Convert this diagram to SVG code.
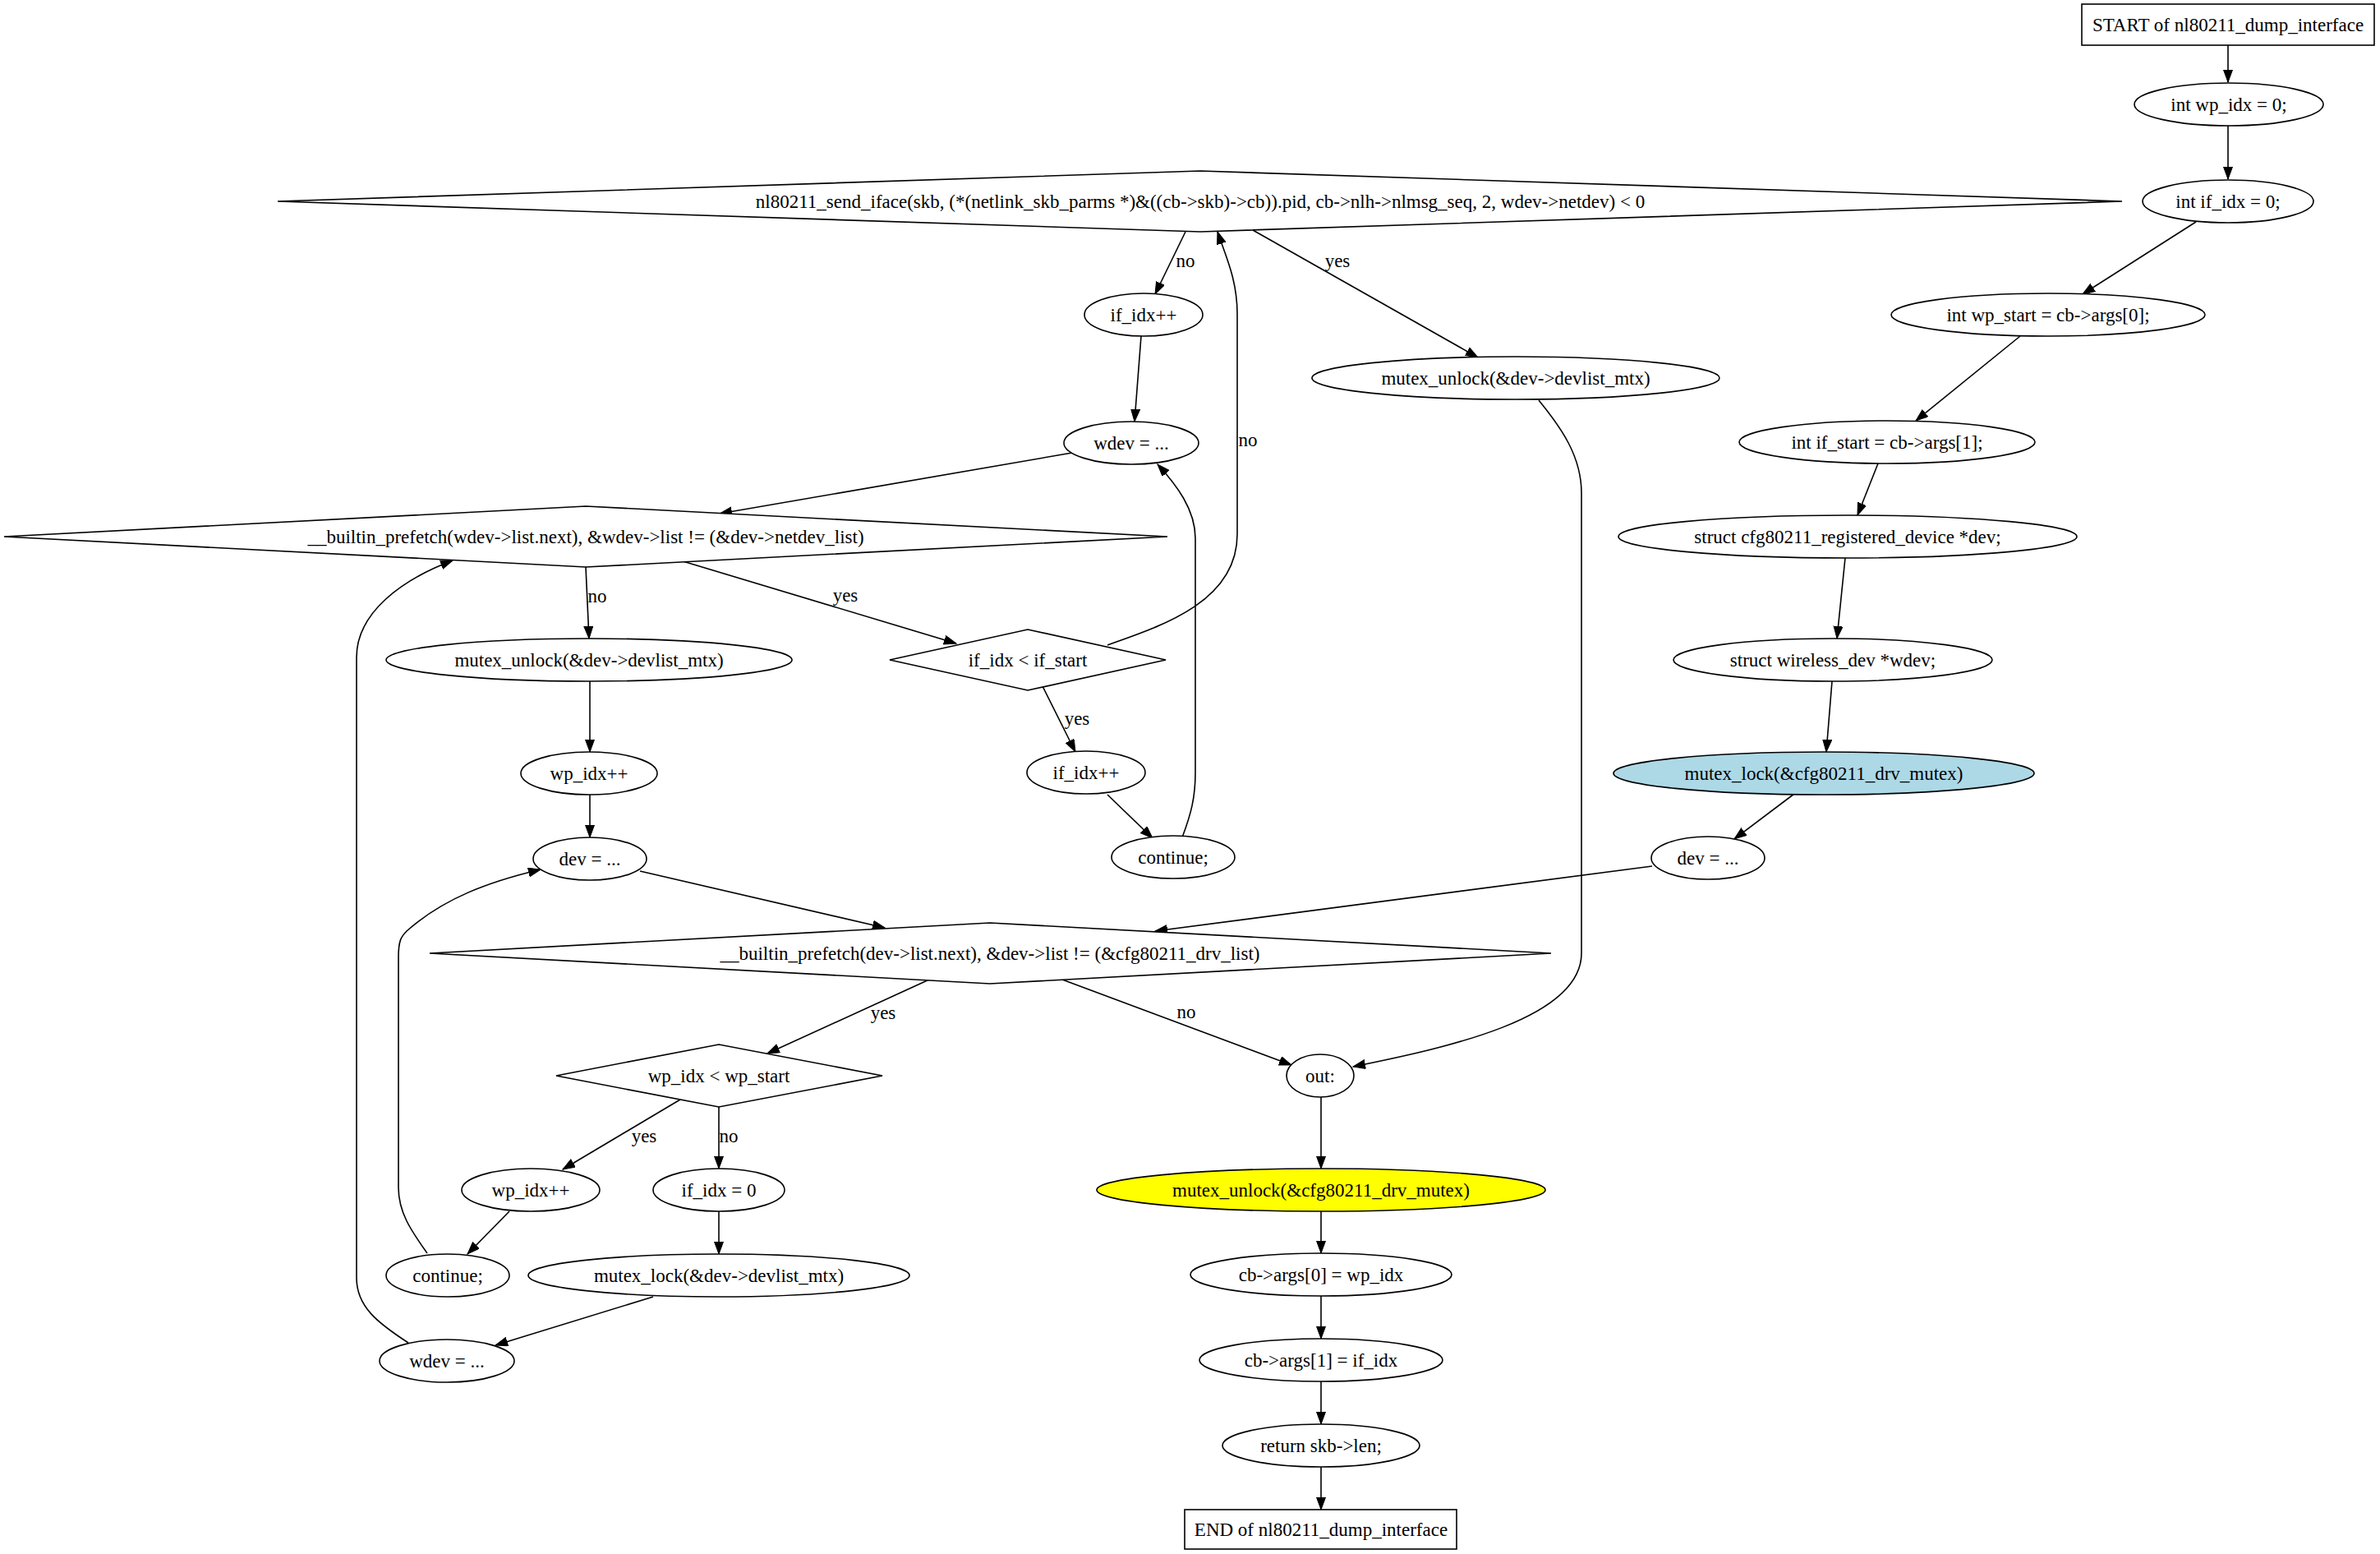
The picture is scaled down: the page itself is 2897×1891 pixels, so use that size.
<svg xmlns="http://www.w3.org/2000/svg" width="2897" height="1891" viewBox="0 0 2897 1891">
<style>
.n{fill:#fff;stroke:#000;stroke-width:1.6}
.t{font-family:"Liberation Serif","Times New Roman",serif;font-size:23px;fill:#000;text-anchor:middle}
.e{fill:none;stroke:#000;stroke-width:1.6;marker-end:url(#ah)}
</style>
<defs>
<marker id="ah" markerWidth="16" markerHeight="12" refX="15" refY="5.5" orient="auto" markerUnits="userSpaceOnUse"><path d="M0,0 L15,5.5 L0,11 z" fill="#000" stroke="#000" stroke-width="1"/></marker>
</defs>
<rect width="2897" height="1891" fill="#fff"/>
<g id="connectors">
<path class="e" d="M2712,55 L2712,100"/>
<path class="e" d="M2712,153 L2712,218"/>
<path class="e" d="M2673,270 L2535,358"/>
<path class="e" d="M2459,409 L2332,512"/>
<path class="e" d="M2286,564 L2261,627"/>
<path class="e" d="M2246,679 L2236,777"/>
<path class="e" d="M2230,829 L2223,915"/>
<path class="e" d="M2184,966 L2111,1021"/>
<path class="e" d="M2011,1054 L1406,1133"/>
<path class="e" d="M779,1060 L1077,1129"/>
<path class="e" d="M1131,1192 L934,1282"/>
<path class="e" d="M1293,1192 L1572,1296"/>
<path class="e" d="M828,1338 L685,1423"/>
<path class="e" d="M875,1347 L875,1422"/>
<path class="e" d="M620,1474 L569,1526"/>
<path class="e" d="M520,1525 C500,1497 485,1475 485,1445 L485,1165 C485,1145 488,1140 495,1133 C540,1093 595,1073 658,1058"/>
<path class="e" d="M875,1474 L875,1526"/>
<path class="e" d="M795,1578 L603,1637"/>
<path class="e" d="M497,1634 C460,1610 434,1590 434,1555 L434,800 C434,745 490,705 551,682"/>
<path class="e" d="M713,690 L717,777"/>
<path class="e" d="M828,682 L1164,783"/>
<path class="e" d="M718,829 L718,915"/>
<path class="e" d="M718,967 L718,1019"/>
<path class="e" d="M1269,835 L1309,915"/>
<path class="e" d="M1348,967 L1403,1020"/>
<path class="e" d="M1439,1019 C1450,990 1455,970 1455,940 L1455,655 C1455,620 1432,590 1409,565"/>
<path class="e" d="M1348,785 C1420,760 1506,730 1506,650 L1506,382 C1506,340 1492,312 1482,282"/>
<path class="e" d="M1443,282 L1406,358"/>
<path class="e" d="M1525,280 L1799,435"/>
<path class="e" d="M1389,409 L1381,513"/>
<path class="e" d="M1305,551 L876,625"/>
<path class="e" d="M1873,487 C1900,520 1925,555 1925,600 L1925,1160 C1925,1240 1760,1275 1647,1298"/>
<path class="e" d="M1608,1335 L1608,1422"/>
<path class="e" d="M1608,1474 L1608,1525"/>
<path class="e" d="M1608,1577 L1608,1629"/>
<path class="e" d="M1608,1681 L1608,1733"/>
<path class="e" d="M1608,1785 L1608,1837"/>
<text class="t" x="1443" y="325">no</text>
<text class="t" x="1628" y="325">yes</text>
<text class="t" x="1519" y="543">no</text>
<text class="t" x="727" y="733">no</text>
<text class="t" x="1029" y="732">yes</text>
<text class="t" x="1311" y="882">yes</text>
<text class="t" x="1075" y="1240">yes</text>
<text class="t" x="1444" y="1239">no</text>
<text class="t" x="784" y="1390">yes</text>
<text class="t" x="887" y="1390">no</text>
</g>
<g id="start"><rect class="n" x="2534" y="5" width="356" height="50"/><text class="t" x="2712" y="38">START of nl80211_dump_interface</text></g>
<g id="wp_idx_decl"><ellipse class="n" cx="2713" cy="127" rx="115" ry="26"/><text class="t" x="2713" y="135">int wp_idx = 0;</text></g>
<g id="if_idx_decl"><ellipse class="n" cx="2712" cy="245" rx="104" ry="26"/><text class="t" x="2712" y="253">int if_idx = 0;</text></g>
<g id="wp_start_decl"><ellipse class="n" cx="2493" cy="383" rx="191" ry="26"/><text class="t" x="2493" y="391">int wp_start = cb-&gt;args[0];</text></g>
<g id="if_start_decl"><ellipse class="n" cx="2297" cy="538" rx="180" ry="26"/><text class="t" x="2297" y="546">int if_start = cb-&gt;args[1];</text></g>
<g id="dev_decl"><ellipse class="n" cx="2249" cy="653" rx="279" ry="26"/><text class="t" x="2249" y="661">struct cfg80211_registered_device *dev;</text></g>
<g id="wdev_decl"><ellipse class="n" cx="2231" cy="803" rx="194" ry="26"/><text class="t" x="2231" y="811">struct wireless_dev *wdev;</text></g>
<g id="mutex_lock_drv"><ellipse class="n" cx="2220" cy="941" rx="256" ry="26" style="fill:#add8e6"/><text class="t" x="2220" y="949">mutex_lock(&amp;cfg80211_drv_mutex)</text></g>
<g id="dev_assign_r"><ellipse class="n" cx="2079" cy="1044" rx="69" ry="26"/><text class="t" x="2079" y="1052">dev = ...</text></g>
<g id="send_iface"><polygon class="n" points="338,245 1461,208 2583,245 1461,282"/><text class="t" x="1461" y="253">nl80211_send_iface(skb, (*(netlink_skb_parms *)&amp;((cb-&gt;skb)-&gt;cb)).pid, cb-&gt;nlh-&gt;nlmsg_seq, 2, wdev-&gt;netdev) &lt; 0</text></g>
<g id="mutex_unlock_dev_r"><ellipse class="n" cx="1845" cy="460" rx="248" ry="26"/><text class="t" x="1845" y="468">mutex_unlock(&amp;dev-&gt;devlist_mtx)</text></g>
<g id="if_idx_inc_u"><ellipse class="n" cx="1392" cy="383" rx="72" ry="26"/><text class="t" x="1392" y="391">if_idx++</text></g>
<g id="wdev_assign_u"><ellipse class="n" cx="1377" cy="539" rx="82" ry="26"/><text class="t" x="1377" y="547">wdev = ...</text></g>
<g id="wdev_loop"><polygon class="n" points="5,653 713,616 1421,653 713,690"/><text class="t" x="713" y="661">__builtin_prefetch(wdev-&gt;list.next), &amp;wdev-&gt;list != (&amp;dev-&gt;netdev_list)</text></g>
<g id="if_cmp"><polygon class="n" points="1083,803 1251,766 1419,803 1251,840"/><text class="t" x="1251" y="811">if_idx &lt; if_start</text></g>
<g id="if_idx_inc_l"><ellipse class="n" cx="1322" cy="940" rx="72" ry="26"/><text class="t" x="1322" y="948">if_idx++</text></g>
<g id="continue_u"><ellipse class="n" cx="1428" cy="1043" rx="75" ry="26"/><text class="t" x="1428" y="1051">continue;</text></g>
<g id="mutex_unlock_dev_l"><ellipse class="n" cx="717" cy="803" rx="247" ry="26"/><text class="t" x="717" y="811">mutex_unlock(&amp;dev-&gt;devlist_mtx)</text></g>
<g id="wp_idx_inc_u"><ellipse class="n" cx="717" cy="941" rx="83" ry="26"/><text class="t" x="717" y="949">wp_idx++</text></g>
<g id="dev_assign_l"><ellipse class="n" cx="718" cy="1045" rx="69" ry="26"/><text class="t" x="718" y="1053">dev = ...</text></g>
<g id="dev_loop"><polygon class="n" points="523,1160 1205,1123 1888,1160 1205,1197"/><text class="t" x="1205" y="1168">__builtin_prefetch(dev-&gt;list.next), &amp;dev-&gt;list != (&amp;cfg80211_drv_list)</text></g>
<g id="wp_cmp"><polygon class="n" points="677,1309 875,1271 1074,1309 875,1347"/><text class="t" x="875" y="1317">wp_idx &lt; wp_start</text></g>
<g id="wp_idx_inc_l"><ellipse class="n" cx="646" cy="1448" rx="84" ry="26"/><text class="t" x="646" y="1456">wp_idx++</text></g>
<g id="if_idx_reset"><ellipse class="n" cx="875" cy="1448" rx="80" ry="26"/><text class="t" x="875" y="1456">if_idx = 0</text></g>
<g id="continue_l"><ellipse class="n" cx="545" cy="1552" rx="75" ry="26"/><text class="t" x="545" y="1560">continue;</text></g>
<g id="mutex_lock_dev"><ellipse class="n" cx="875" cy="1552" rx="232" ry="26"/><text class="t" x="875" y="1560">mutex_lock(&amp;dev-&gt;devlist_mtx)</text></g>
<g id="wdev_assign_l"><ellipse class="n" cx="544" cy="1656" rx="82" ry="26"/><text class="t" x="544" y="1664">wdev = ...</text></g>
<g id="out"><ellipse class="n" cx="1607" cy="1309" rx="41" ry="26"/><text class="t" x="1607" y="1317">out:</text></g>
<g id="mutex_unlock_drv"><ellipse class="n" cx="1608" cy="1448" rx="273" ry="26" style="fill:#ffff00"/><text class="t" x="1608" y="1456">mutex_unlock(&amp;cfg80211_drv_mutex)</text></g>
<g id="args0"><ellipse class="n" cx="1608" cy="1551" rx="159" ry="26"/><text class="t" x="1608" y="1559">cb-&gt;args[0] = wp_idx</text></g>
<g id="args1"><ellipse class="n" cx="1608" cy="1655" rx="148" ry="26"/><text class="t" x="1608" y="1663">cb-&gt;args[1] = if_idx</text></g>
<g id="return"><ellipse class="n" cx="1608" cy="1759" rx="120" ry="26"/><text class="t" x="1608" y="1767">return skb-&gt;len;</text></g>
<g id="end"><rect class="n" x="1442" y="1837" width="331" height="48"/><text class="t" x="1608" y="1869">END of nl80211_dump_interface</text></g>
</svg>
